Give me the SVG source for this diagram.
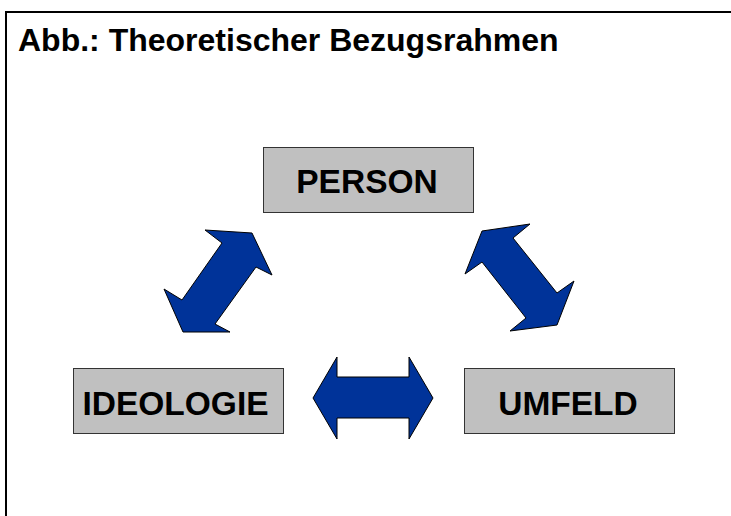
<svg xmlns="http://www.w3.org/2000/svg" width="731" height="516" viewBox="0 0 731 516">
<style>
.box{fill:#C0C0C0;stroke:#333;stroke-width:1}
.lbl{font-family:"Liberation Sans",Arial,sans-serif;font-weight:bold;font-size:33.5px;fill:#000;text-anchor:middle}
.arr{fill:#003399;stroke:#000;stroke-width:1;stroke-linejoin:miter}
</style>
<rect width="731" height="516" fill="#fff"/>
<path d="M6 516 V12 H731" fill="none" stroke="#000" stroke-width="2"/>
<text x="18" y="51" font-family="'Liberation Sans',Arial,sans-serif" font-weight="bold" font-size="32" fill="#000">Abb.: Theoretischer Bezugsrahmen</text>
<g id="person"><rect class="box" x="263.5" y="147.5" width="210" height="65"/><text class="lbl" x="367" y="193">PERSON</text></g>
<g id="ideologie"><rect class="box" x="73.5" y="368.5" width="210" height="65"/><text class="lbl" x="175.5" y="415">IDEOLOGIE</text></g>
<g id="umfeld"><rect class="box" x="464.5" y="368.5" width="210" height="65"/><text class="lbl" x="568" y="415">UMFELD</text></g>
<g id="connectors">
<polygon class="arr" points="252,233 272,275 256,267 215,324 230,332 183,332 164,289 182,300 222,243 205,230"/>
<polygon class="arr" points="482,231 530,224 513,238 557,293 574,281 557,325 510,331 526,318 482,262 465,274"/>
<polygon class="arr" points="313,398 337,357 337,377 409,377 409,357 433,398 409,439 409,418 337,418 337,439"/>
</g>
</svg>
